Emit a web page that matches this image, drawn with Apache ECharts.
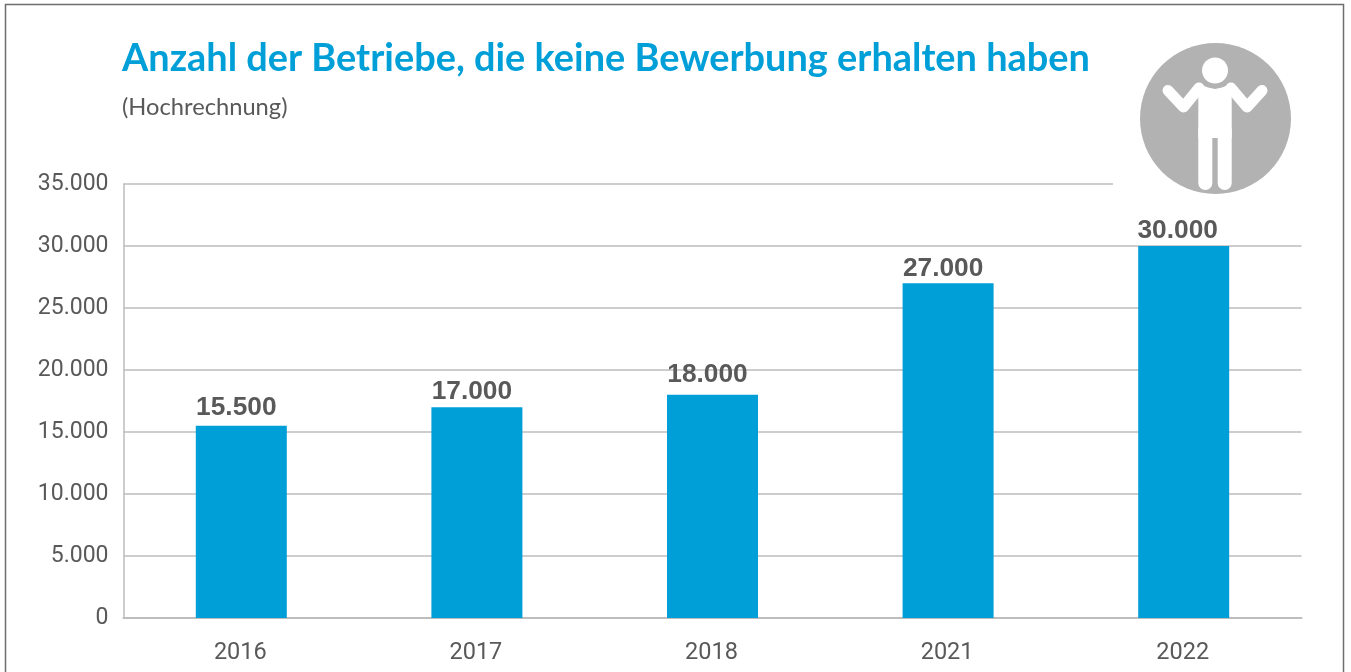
<!DOCTYPE html>
<html>
<head>
<meta charset="utf-8">
<title>Anzahl der Betriebe</title>
<style>
  html, body { margin: 0; padding: 0; background: #fff; }
  #chart { width: 1351px; height: 672px; }
</style>
<script src="https://cdn.jsdelivr.net/npm/echarts@6/dist/echarts.min.js"></script>
</head>
<body>
<div id="chart"></div>
<script>
  var years = ["2016", "2017", "2018", "2021", "2022"];
  var betriebe = [15500, 17000, 18000, 27000, 30000];
  var tickMax = 35000;
  var tickStep = 5000;
  // die Werte-Labels sitzen im Original nicht ganz gleichmaessig
  var labelNudge = [[-5, -1], [-5, 2], [-5, -3], [-5, 3], [-6, 2]];

  var blue = "#009fd8";
  var textGrey = "#595959";
  var lineGrey = "#bdbdbd";
  var iconGrey = "#b2b2b2";

  // 15500 -> 15.500
  function punkt(v) {
    return String(v).replace(/\B(?=(\d{3})+$)/g, ".");
  }

  var limb = { fill: null, stroke: "#fff", lineWidth: 11, lineCap: "round", lineJoin: "round" };
  var leg = { fill: null, stroke: "#fff", lineWidth: 14, lineCap: "round" };

  var chart = echarts.init(document.getElementById("chart"));
  var option = {
    backgroundColor: "#fff",
    animation: false,
    title: [
      {
        text: "Anzahl der Betriebe, die keine Bewerbung erhalten haben",
        left: 117,
        top: 35,
        textStyle: { color: blue, fontFamily: "Lato", fontWeight: 700, fontSize: 37.9 }
      },
      {
        text: "(Hochrechnung)",
        left: 117,
        top: 90,
        textStyle: { color: textGrey, fontFamily: "Lato", fontWeight: 400, fontSize: 23.7 }
      }
    ],
    grid: { left: 123.5, right: 49.5, top: 184, bottom: 54 },
    xAxis: {
      type: "category",
      data: years,
      axisTick: { show: false },
      axisLine: { lineStyle: { color: lineGrey, width: 2 } },
      axisLabel: { color: textGrey, fontFamily: "Roboto", fontSize: 23.5, margin: 23, padding: [0, 2, 0, 0] }
    },
    yAxis: {
      type: "value",
      min: 0,
      max: tickMax,
      interval: tickStep,
      axisLine: { show: true, lineStyle: { color: lineGrey, width: 1.5 } },
      axisTick: { show: false },
      splitLine: { lineStyle: { color: lineGrey, width: 1.5 } },
      axisLabel: { color: textGrey, fontFamily: "Roboto", fontSize: 23, margin: 15, padding: [4, 0, 0, 0], formatter: punkt }
    },
    series: [{
      type: "bar",
      data: betriebe.map(function (v, i) {
        return { value: v, label: { offset: labelNudge[i] } };
      }),
      barWidth: 91,
      itemStyle: { color: blue },
      label: {
        show: true,
        position: "top",
        distance: 4,
        color: textGrey,
        fontFamily: "Liberation Sans",
        fontWeight: "bold",
        fontSize: 26.3,
        formatter: function (p) { return punkt(p.value); }
      }
    }],
    graphic: [
      // Rahmen, unten offen
      { type: "polyline", z: 0, shape: { points: [[5.5, 672], [5.5, 4.5], [1343.5, 4.5], [1343.5, 672]] },
        style: { fill: null, stroke: "#6e6e6e", lineWidth: 1.5 } },
      // oberste Linie endet vor dem Icon
      { type: "rect", z: 5, shape: { x: 1113, y: 180, width: 195, height: 8 }, style: { fill: "#fff" } },
      { type: "circle", z: 6, shape: { cx: 1215.5, cy: 118.5, r: 75.5 }, style: { fill: iconGrey } },
      { type: "circle", z: 7, shape: { cx: 1215, cy: 70.5, r: 13 }, style: { fill: "#fff" } },
      { type: "polygon", z: 7, shape: { points: [[1198.3, 90], [1203, 85.5], [1208, 87.5], [1215, 89], [1222, 87.5], [1227, 85.5], [1231.7, 90], [1231.7, 138], [1198.3, 138]] },
        style: { fill: "#fff" } },
      { type: "polyline", z: 7, shape: { points: [[1205.3, 130], [1205.3, 183]] }, style: leg },
      { type: "polyline", z: 7, shape: { points: [[1224.7, 130], [1224.7, 183]] }, style: leg },
      { type: "polyline", z: 7, shape: { points: [[1168, 90.5], [1183.5, 107], [1199, 88]] }, style: limb },
      { type: "polyline", z: 7, shape: { points: [[1262, 90.5], [1247, 107], [1231, 88]] }, style: limb }
    ]
  };
  chart.setOption(option);
</script>
</body>
</html>
